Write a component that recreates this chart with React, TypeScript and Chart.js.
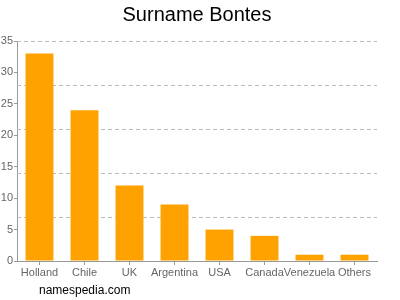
import React, { useEffect, useRef } from "react";
import { Chart, registerables } from "chart.js";

Chart.register(...registerables);

const categories = ["Holland", "Chile", "UK", "Argentina", "USA", "Canada", "Venezuela", "Others"];
const counts = [33, 24, 12, 9, 5, 4, 1, 1];
const yTickStep = 5;
const yMax = 35;
const gridValues = [7, 14, 21, 28, 35];
const titleText = "Surname Bontes";
const footerText = "namespedia.com";

const FONT = "'Liberation Sans', Arial, sans-serif";

const overlay = {
  id: "overlay",
  beforeDatasetsDraw(chart: any) {
    const { ctx, chartArea, scales } = chart;
    ctx.save();
    ctx.strokeStyle = "#bbbbbb";
    ctx.lineWidth = 1;
    ctx.setLineDash([4, 3]);
    for (const v of gridValues) {
      const y = Math.round(scales.y.getPixelForValue(v)) + 0.5;
      ctx.beginPath();
      ctx.moveTo(chartArea.left, y);
      ctx.lineTo(chartArea.right, y);
      ctx.stroke();
    }
    ctx.restore();
  },
  afterDraw(chart: any) {
    const { ctx } = chart;
    ctx.save();
    ctx.fillStyle = "#000";
    ctx.textBaseline = "middle";
    ctx.textAlign = "center";
    ctx.font = `20px ${FONT}`;
    ctx.fillText(titleText, 197, 15);
    ctx.textAlign = "left";
    ctx.font = `12px ${FONT}`;
    ctx.fillText(footerText, 39, 291);
    ctx.restore();
  },
};

export default function App() {
  const ref = useRef<HTMLCanvasElement>(null);
  useEffect(() => {
    const chart = new Chart(ref.current!, {
      type: "bar",
      data: {
        labels: categories,
        datasets: [
          {
            data: counts,
            backgroundColor: "#ffa200",
            borderWidth: 0,
            categoryPercentage: 0.62,
            barPercentage: 1,
          },
        ],
      },
      options: {
        animation: false,
        responsive: false,
        maintainAspectRatio: false,
        layout: { padding: { left: 0, right: 23, top: 41, bottom: 0 } },
        plugins: { legend: { display: false }, tooltip: { enabled: false }, title: { display: false } },
        scales: {
          x: {
            offset: true,
            grid: { display: true, drawOnChartArea: false, offset: false, tickLength: 4, color: "#999" },
            border: { color: "#999" },
            ticks: { autoSkip: false, maxRotation: 0, minRotation: 0, color: "#666", font: { size: 11, family: FONT }, padding: 1 },
            afterFit(scale: any) { scale.height = 39; },
          },
          y: {
            min: 0,
            max: yMax,
            ticks: { stepSize: yTickStep, color: "#666", font: { size: 11, family: FONT }, padding: 1 },
            grid: { display: true, drawOnChartArea: false, tickLength: 3, color: "#999" },
            border: { color: "#999" },
            afterFit(scale: any) { scale.width = 17; },
          },
        },
      },
      plugins: [overlay],
    });
    return () => chart.destroy();
  }, []);
  return (
    <div style={{ position: "fixed", left: 0, top: 0, width: 400, height: 300 }}>
      <canvas ref={ref} width={400} height={300} style={{ width: 400, height: 300 }} />
    </div>
  );
}
